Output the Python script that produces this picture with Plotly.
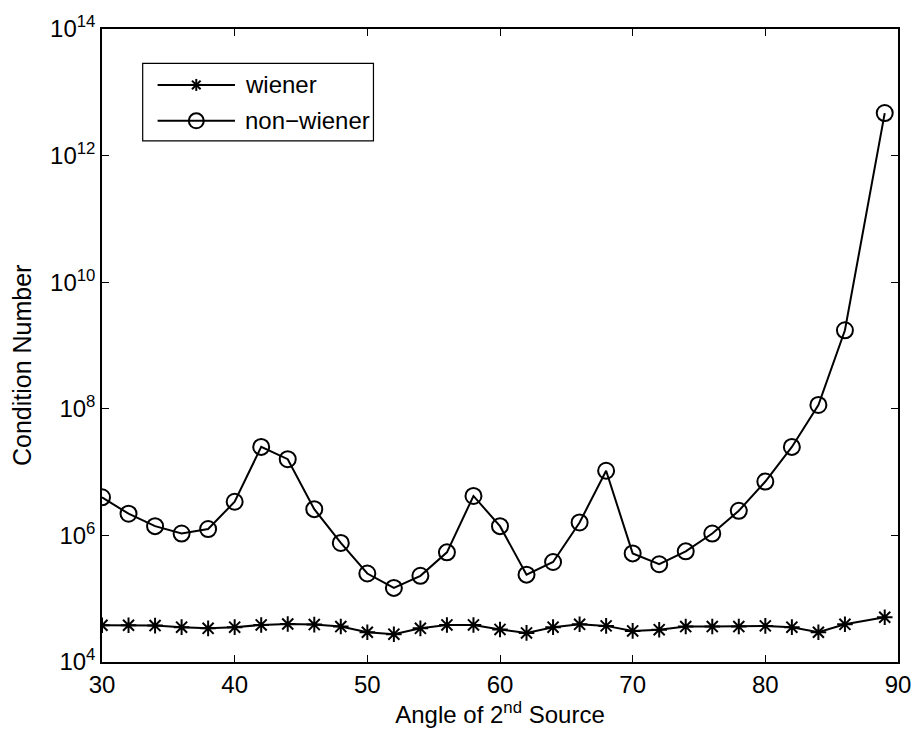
import plotly.graph_objects as go

angles = [30, 32, 34, 36, 38, 40, 42, 44, 46, 48, 50, 52, 54, 56, 58, 60,
          62, 64, 66, 68, 70, 72, 74, 76, 78, 80, 82, 84, 86, 89]

wiener = [3.8e4, 3.8e4, 3.76e4, 3.55e4, 3.4e4, 3.55e4, 3.85e4, 3.98e4, 3.9e4, 3.63e4,
          2.95e4, 2.75e4, 3.4e4, 3.85e4, 3.85e4, 3.27e4, 2.88e4, 3.55e4, 3.94e4, 3.72e4,
          3.1e4, 3.24e4, 3.63e4, 3.63e4, 3.63e4, 3.72e4, 3.55e4, 2.95e4, 3.94e4, 5.1e4]

non_wiener = [4.0e6, 2.2e6, 1.4e6, 1.07e6, 1.26e6, 3.4e6, 2.5e7, 1.6e7, 2.6e6, 7.6e5,
              2.5e5, 1.48e5, 2.3e5, 5.4e5, 4.2e6, 1.4e6, 2.4e5, 3.8e5, 1.6e6, 1.05e7,
              5.2e5, 3.5e5, 5.6e5, 1.07e6, 2.45e6, 7.1e6, 2.5e7, 1.15e8, 1.74e9, 4.7e12]

series_names = ["wiener", "non\u2212wiener"]

x_ticks = [30, 40, 50, 60, 70, 80, 90]
y_tickvals = [1e4, 1e6, 1e8, 1e10, 1e12, 1e14]
y_ticktext = ["10<sup>4</sup>", "10<sup>6</sup>", "10<sup>8</sup>",
              "10<sup>10</sup>", "10<sup>12</sup>", "10<sup>14</sup>"]

FONT = "Arial, 'Liberation Sans', sans-serif"
FS = 24
W, H = 923, 740
ML, MR, MT, MB = 102, 19, 28, 78
PW, PH = W - ML - MR, H - MT - MB


def px(x):
    return (x - ML) / PW


def py(y):
    return (H - MB - y) / PH


fig = go.Figure()
fig.add_trace(go.Scatter(
    x=angles, y=wiener, mode="lines+markers", name=series_names[0],
    line=dict(color="black", width=2),
    marker=dict(symbol="asterisk-open", size=13, color="black",
                line=dict(color="black", width=2)),
))
fig.add_trace(go.Scatter(
    x=angles, y=non_wiener, mode="lines+markers", name=series_names[1],
    line=dict(color="black", width=2),
    marker=dict(symbol="circle-open", size=16, color="black",
                line=dict(color="black", width=2)),
))

axis_common = dict(
    showgrid=False, zeroline=False, showline=True, linecolor="black", linewidth=1.5,
    mirror="ticks", ticks="inside", ticklen=7, tickwidth=1, tickcolor="black",
    tickfont=dict(family=FONT, size=FS, color="black"),
)

# ---- legend drawn by hand (MATLAB-style long line samples) ----
shapes = []
annotations = []
shapes.append(dict(type="rect", xref="paper", yref="paper",
                   x0=px(143), x1=px(375.5), y0=py(140), y1=py(62.5),
                   line=dict(color="black", width=1.2), fillcolor="white", layer="above"))
rows_y = [84, 120]
mk_x = 197
for i, ry in enumerate(rows_y):
    shapes.append(dict(type="line", xref="paper", yref="paper",
                       x0=px(158), x1=px(236), y0=py(ry), y1=py(ry),
                       line=dict(color="black", width=2), layer="above"))
    annotations.append(dict(text=series_names[i], xref="paper", yref="paper",
                            x=px(244), y=py(ry), xanchor="left", yanchor="middle",
                            showarrow=False, font=dict(family=FONT, size=FS, color="black")))
# asterisk symbol
r = 6.0
d = 4.3
for (ax0, ay0, ax1, ay1) in [(-r, 0, r, 0), (0, -r, 0, r), (-d, -d, d, d), (-d, d, d, -d)]:
    shapes.append(dict(type="line", xref="paper", yref="paper",
                       xsizemode="pixel", ysizemode="pixel",
                       xanchor=px(mk_x), yanchor=py(rows_y[0]),
                       x0=ax0, x1=ax1, y0=ay0, y1=ay1,
                       line=dict(color="black", width=2), layer="above"))
# open circle symbol
shapes.append(dict(type="circle", xref="paper", yref="paper",
                   xsizemode="pixel", ysizemode="pixel",
                   xanchor=px(mk_x), yanchor=py(rows_y[1]),
                   x0=-7.5, x1=7.5, y0=-7.5, y1=7.5,
                   line=dict(color="black", width=2), layer="above"))

# y-axis title
annotations.append(dict(text="Condition Number", xref="paper", yref="paper",
                        x=px(22), y=py(365), xanchor="center", yanchor="middle",
                        textangle=-90, showarrow=False,
                        font=dict(family=FONT, size=25, color="black")))

fig.update_layout(
    width=W, height=H,
    margin=dict(l=ML, r=MR, t=MT, b=MB),
    paper_bgcolor="white", plot_bgcolor="white",
    font=dict(family=FONT, size=FS, color="black"),
    xaxis=dict(range=[30, 90], tickvals=x_ticks,
               title=dict(text="Angle of 2<sup>nd</sup> Source", standoff=9,
                          font=dict(family=FONT, size=FS)),
               **axis_common),
    yaxis=dict(type="log", range=[4, 14], tickvals=y_tickvals, ticktext=y_ticktext,
               **axis_common),
    showlegend=False,
    shapes=shapes,
    annotations=annotations,
)

fig.write_html("out.html")
